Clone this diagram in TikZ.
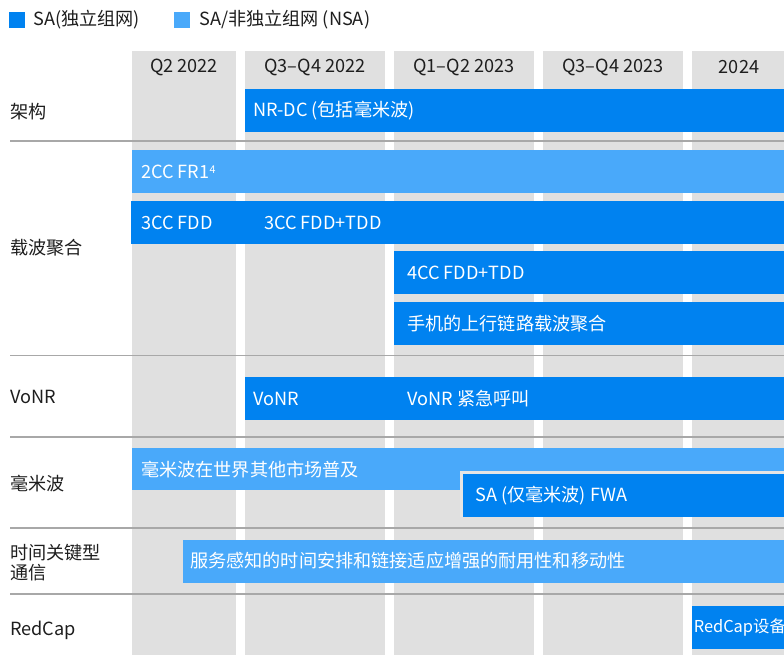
\documentclass[tikz,border=0pt]{standalone}
\usepackage{fontspec}
\setmainfont{Noto Sans CJK SC}
\definecolor{darkb}{HTML}{0082F0}
\definecolor{lightb}{HTML}{49A9FA}
\definecolor{colg}{HTML}{E0E0E0}
\definecolor{sepg}{HTML}{A8A8A8}
\definecolor{txt}{HTML}{1E1E1E}
\begin{document}
\begin{tikzpicture}[x=0.75pt,y=-0.75pt,
  lbl/.style={anchor=west,inner sep=0pt,text=txt,font=\fontsize{13.6pt}{16pt}\selectfont},
  hdr/.style={inner sep=0pt,text=txt,font=\fontsize{13.6pt}{16pt}\selectfont},
  btxt/.style={anchor=west,inner sep=0pt,text=white,font=\fontsize{13.6pt}{16pt}\selectfont},
  sep/.style={draw=sepg,line width=1.2pt}]
\clip (0,0) rectangle (784,655);
\fill[white] (0,0) rectangle (784,655);
% legend
\fill[darkb] (9,12) rectangle (25,28);
\node[lbl] (legsa) at (33,20) {SA(独立组网)};
\fill[lightb] (174,12) rectangle (190,28);
\node[lbl] (legnsa) at (199,20) {SA/非独立组网 (NSA)};
% columns
\fill[colg] (132,51) rectangle (236,655);
\fill[colg] (245,51) rectangle (385,655);
\fill[colg] (394,51) rectangle (534,655);
\fill[colg] (543,51) rectangle (683,655);
\fill[colg] (692,51) rectangle (784,655);
\node[hdr] (h1) at (184,67) {Q2 2022};
\node[hdr] (h2) at (315,67) {Q3–Q4 2022};
\node[hdr] (h3) at (464,67) {Q1–Q2 2023};
\node[hdr] (h4) at (613,67) {Q3–Q4 2023};
\node[hdr] (h5) at (739,67) {2024};
% separators
\draw[sep] (10,141) -- (784,141);
\draw[sep] (10,355.5) -- (784,355.5);
\draw[sep] (10,437) -- (784,437);
\draw[sep] (10,528) -- (784,528);
\draw[sep] (10,594) -- (784,594);
% row labels
\node[lbl] (r1) at (10,112) {架构};
\node[lbl] (r2) at (10,248) {载波聚合};
\node[lbl] (r3) at (10,397) {VoNR};
\node[lbl] (r4) at (10,484) {毫米波};
\node[lbl,align=left] (r5) at (10,562.5) {时间关键型\\[-1pt]通信};
\node[lbl] (r6) at (10,630) {RedCap};
% bars
\fill[darkb] (245,89) rectangle (784,132);
\node[btxt] (b1) at (253,111) {NR-DC (包括毫米波)};
\fill[lightb] (132,150) rectangle (784,193);
\node[btxt] (b2) at (141,172) {2CC FR1\raisebox{0.55ex}{\fontsize{8pt}{9pt}\selectfont 4}};
\fill[darkb] (131,201) rectangle (784,244);
\node[btxt] (b3) at (141,223) {3CC FDD};
\node[btxt] (b3b) at (264,223) {3CC FDD+TDD};
\fill[darkb] (394,251) rectangle (784,294);
\node[btxt] (b4) at (407,273) {4CC FDD+TDD};
\fill[darkb] (394,302) rectangle (784,345);
\node[btxt] (b5) at (407,324) {手机的上行链路载波聚合};
\fill[darkb] (245,377) rectangle (784,420);
\node[btxt] (b6) at (253,399) {VoNR};
\node[btxt] (b6b) at (407,399) {VoNR 紧急呼叫};
\fill[lightb] (132,448) rectangle (784,490);
\node[btxt] (b7) at (141,470) {毫米波在世界其他市场普及};
\fill[colg!85!white] (460,471) rectangle (784,517);
\fill[darkb] (463,474) rectangle (784,517);
\node[btxt] (b8) at (475,496) {SA (仅毫米波) FWA};
\fill[lightb] (183,540) rectangle (784,583);
\node[btxt] (b9) at (190,561) {服务感知的时间安排和链接适应增强的耐用性和移动性};
\fill[darkb] (692,606) rectangle (784,649);
\node[btxt,font=\fontsize{12.3pt}{15pt}\selectfont] (b10) at (693.5,627) {RedCap设备};
\end{tikzpicture}
\end{document}
